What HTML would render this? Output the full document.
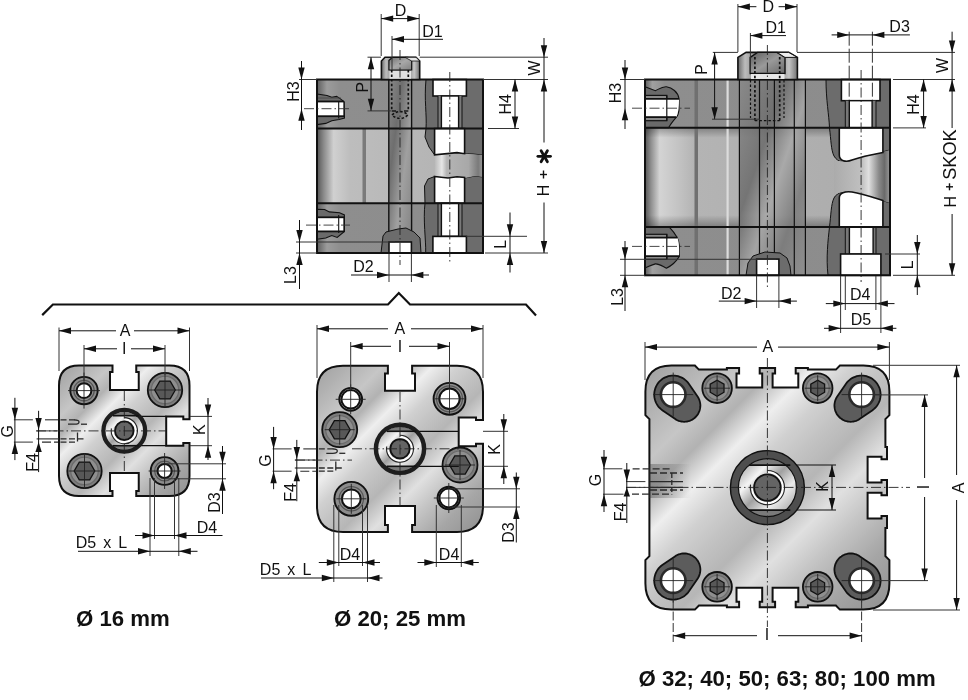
<!DOCTYPE html>
<html><head><meta charset="utf-8"><style>html,body{margin:0;padding:0;background:#fff;width:968px;height:700px;overflow:hidden}svg{display:block;will-change:transform;font-family:"Liberation Sans",sans-serif}</style></head><body>
<svg width="968" height="700" viewBox="0 0 968 700" font-family="Liberation Sans, sans-serif"><defs><linearGradient id="capL" x1="0" y1="0" x2="1" y2="0"><stop offset="0" stop-color="#5e5e5e"/><stop offset="0.06" stop-color="#9c9c9c"/><stop offset="0.14" stop-color="#8e8e8e"/><stop offset="1" stop-color="#8c8c8c"/></linearGradient><linearGradient id="tubeL" x1="0" y1="0" x2="1" y2="0"><stop offset="0" stop-color="#555"/><stop offset="0.04" stop-color="#8a8a8a"/><stop offset="0.1" stop-color="#d0d0d0"/><stop offset="0.2" stop-color="#bdbdbd"/><stop offset="1" stop-color="#b0b0b0"/></linearGradient><linearGradient id="rodG" x1="0" y1="0" x2="1" y2="0"><stop offset="0" stop-color="#6a6a6a"/><stop offset="0.12" stop-color="#c8c8c8"/><stop offset="0.3" stop-color="#9a9a9a"/><stop offset="0.6" stop-color="#8a8a8a"/><stop offset="0.85" stop-color="#c8c8c8"/><stop offset="1" stop-color="#777"/></linearGradient><linearGradient id="barG" x1="0" y1="0" x2="1" y2="0"><stop offset="0" stop-color="#b8b8b8"/><stop offset="0.15" stop-color="#e6e6e6"/><stop offset="0.25" stop-color="#b4b4b4"/><stop offset="0.7" stop-color="#a8a8a8"/><stop offset="0.9" stop-color="#7a7a7a"/><stop offset="1" stop-color="#9a9a9a"/></linearGradient><linearGradient id="front" x1="0" y1="0" x2="1" y2="1"><stop offset="0" stop-color="#8a8a8a"/><stop offset="0.3" stop-color="#bdbdbd"/><stop offset="0.42" stop-color="#e8e8e8"/><stop offset="0.5" stop-color="#b8b8b8"/><stop offset="0.62" stop-color="#e6e6e6"/><stop offset="0.8" stop-color="#bdbdbd"/><stop offset="1" stop-color="#7a7a7a"/></linearGradient><linearGradient id="chan" x1="0" y1="0" x2="1" y2="1"><stop offset="0" stop-color="#8a8a8a"/><stop offset="0.3" stop-color="#6e6e6e"/><stop offset="0.6" stop-color="#a0a0a0"/><stop offset="1" stop-color="#808080"/></linearGradient><linearGradient id="rodO" x1="0" y1="0" x2="1" y2="0"><stop offset="0" stop-color="#6a6a6a"/><stop offset="0.12" stop-color="#bcbcbc"/><stop offset="0.3" stop-color="#8e8e8e"/><stop offset="0.5" stop-color="#868686"/><stop offset="0.7" stop-color="#909090"/><stop offset="0.86" stop-color="#c4c4c4"/><stop offset="1" stop-color="#727272"/></linearGradient><linearGradient id="rodI" x1="0" y1="0" x2="1" y2="1"><stop offset="0" stop-color="#5e5e5e"/><stop offset="0.5" stop-color="#9a9a9a"/><stop offset="1" stop-color="#6a6a6a"/></linearGradient><linearGradient id="rodI1" x1="0" y1="0" x2="1" y2="1"><stop offset="0" stop-color="#707070"/><stop offset="0.5" stop-color="#a8a8a8"/><stop offset="1" stop-color="#808080"/></linearGradient><linearGradient id="capR" x1="0" y1="0" x2="1" y2="0"><stop offset="0" stop-color="#5e5e5e"/><stop offset="0.03" stop-color="#a0a0a0"/><stop offset="0.08" stop-color="#8e8e8e"/><stop offset="1" stop-color="#8c8c8c"/></linearGradient><linearGradient id="tubeR" x1="0" y1="0" x2="1" y2="0"><stop offset="0" stop-color="#555"/><stop offset="0.025" stop-color="#909090"/><stop offset="0.06" stop-color="#d4d4d4"/><stop offset="0.15" stop-color="#c0c0c0"/><stop offset="0.2" stop-color="#b4b4b4"/><stop offset="1" stop-color="#ababab"/></linearGradient><linearGradient id="tubeV" x1="0" y1="0" x2="0" y2="1"><stop offset="0" stop-color="#000" stop-opacity="0.28"/><stop offset="0.1" stop-color="#000" stop-opacity="0"/><stop offset="0.88" stop-color="#000" stop-opacity="0"/><stop offset="1" stop-color="#000" stop-opacity="0.3"/></linearGradient><linearGradient id="chan2" x1="0" y1="0" x2="1" y2="1"><stop offset="0" stop-color="#8a8a8a"/><stop offset="0.35" stop-color="#6a6a6a"/><stop offset="0.55" stop-color="#a8a8a8"/><stop offset="0.75" stop-color="#7a7a7a"/><stop offset="1" stop-color="#909090"/></linearGradient><linearGradient id="barR" x1="0" y1="0" x2="1" y2="0"><stop offset="0" stop-color="#ababab"/><stop offset="0.5" stop-color="#c0c0c0"/><stop offset="0.62" stop-color="#e0e0e0"/><stop offset="0.8" stop-color="#8a8a8a"/><stop offset="0.9" stop-color="#6a6a6a"/><stop offset="1" stop-color="#9a9a9a"/></linearGradient><linearGradient id="frontG" x1="0" y1="0" x2="1" y2="1"><stop offset="0" stop-color="#a0a0a0"/><stop offset="0.1" stop-color="#b2b2b2"/><stop offset="0.2" stop-color="#c6c6c6"/><stop offset="0.27" stop-color="#b2b2b2"/><stop offset="0.35" stop-color="#eeeeee"/><stop offset="0.43" stop-color="#d0d0d0"/><stop offset="0.5" stop-color="#c2c2c2"/><stop offset="0.57" stop-color="#b6b6b6"/><stop offset="0.66" stop-color="#e0e0e0"/><stop offset="0.75" stop-color="#c4c4c4"/><stop offset="0.86" stop-color="#a6a6a6"/><stop offset="1" stop-color="#909090"/></linearGradient><linearGradient id="ringIn" x1="0" y1="0" x2="1" y2="1"><stop offset="0" stop-color="#8a8a8a"/><stop offset="0.3" stop-color="#f4f4f4"/><stop offset="0.48" stop-color="#a0a0a0"/><stop offset="0.68" stop-color="#ececec"/><stop offset="1" stop-color="#909090"/></linearGradient><linearGradient id="portSh" x1="0" y1="0" x2="1" y2="0"><stop offset="0" stop-color="#777"/><stop offset="1" stop-color="#777"/></linearGradient><linearGradient id="psh" x1="0" y1="0" x2="1" y2="0"><stop offset="0" stop-color="#333" stop-opacity="0.35"/><stop offset="0.6" stop-color="#333" stop-opacity="0.15"/><stop offset="1" stop-color="#333" stop-opacity="0"/></linearGradient></defs><rect width="968" height="700" fill="#fff"/><rect x="317" y="79.5" width="166" height="49.0" fill="url(#capL)" stroke="none" stroke-width="1" />
<rect x="317" y="128.5" width="166" height="74.80000000000001" fill="url(#tubeL)" stroke="none" stroke-width="1" />
<rect x="317" y="203.3" width="166" height="49.69999999999999" fill="url(#capL)" stroke="none" stroke-width="1" />
<rect x="362.5" y="128.5" width="3.5" height="74.80000000000001" fill="#7a7a7a" stroke="none" stroke-width="1" />
<rect x="388.8" y="79.5" width="22.8" height="173.5" fill="url(#chan)" stroke="none" stroke-width="1" />
<line x1="388.8" y1="79.5" x2="388.8" y2="253" stroke="#111" stroke-width="1.4" />
<line x1="411.6" y1="79.5" x2="411.6" y2="253" stroke="#111" stroke-width="1.4" />
<path d="M317,94 L327,95.5 L331.8,97.3 L336.6,96.4 L340.8,99.1 L344,101.8 L344.5,118 L339,119.5 L331.8,120.7 L325.8,123.4 L317,124.6 Z" fill="#6a6a6a" stroke="#111" stroke-width="1.1" />
<line x1="317" y1="98" x2="341" y2="98" stroke="#444" stroke-width="0.8" />
<rect x="317" y="101.5" width="27" height="14.7" fill="#fff" stroke="none" stroke-width="1" />
<line x1="317" y1="101.5" x2="344" y2="101.5" stroke="#111" stroke-width="1.8" />
<line x1="317" y1="116.2" x2="344.5" y2="116.2" stroke="#111" stroke-width="1.8" />
<line x1="338.7" y1="101.5" x2="338.7" y2="118.5" stroke="#111" stroke-width="1.1" />
<line x1="344" y1="101.5" x2="344" y2="116.2" stroke="#111" stroke-width="1.3" />
<path d="M317,209.2 L324.6,209.5 L329.4,211.9 L339.6,212.8 L344.4,214.9 L344.4,231.4 L337.2,237.4 L331.8,235.6 L325.8,238 L317,239.2 Z" fill="#6a6a6a" stroke="#111" stroke-width="1.1" />
<rect x="317" y="217.3" width="27" height="14.1" fill="#fff" stroke="none" stroke-width="1" />
<line x1="317" y1="217.3" x2="344.4" y2="217.3" stroke="#111" stroke-width="1.8" />
<line x1="317" y1="231.4" x2="344.4" y2="231.4" stroke="#111" stroke-width="1.8" />
<line x1="338.7" y1="215" x2="338.7" y2="233" stroke="#111" stroke-width="1.1" />
<line x1="344" y1="217.3" x2="344" y2="231.4" stroke="#111" stroke-width="1.3" />
<path d="M426,79.5 L483,79.5 L483,155 L473,154 L465,153.7 L457,152.6 L434.6,154.9 L429,147 L425,137 L426,128.5 C427,115 424,100 426,79.5 Z" fill="#6c6c6c" stroke="#111" stroke-width="1" />
<path d="M425.7,253 C426,240 423,220 425,203.3 L424.5,186 L428,179 L434.6,176.5 L448,178 L457,176.8 L465,178 L475,176 L483,177 L483,253 Z" fill="#6c6c6c" stroke="#111" stroke-width="1" />
<path d="M434.6,154.9 L457,152.6 L465,153.7 L483,155 L483,177 L475,176 L465,178 L457,176.8 L448,178 L434.6,176.5 Z" fill="url(#barG)" stroke="none" stroke-width="1" />
<rect x="433" y="79.5" width="33.4" height="16.5" fill="#fff" stroke="#111" stroke-width="1.6" />
<rect x="438" y="96" width="24" height="32.5" fill="#7a7a7a" stroke="none" stroke-width="1" />
<rect x="441.4" y="96" width="17.2" height="32.5" fill="#fff" stroke="#111" stroke-width="1.4" />
<line x1="438" y1="96" x2="438" y2="128.5" stroke="#111" stroke-width="1" />
<line x1="462" y1="96" x2="462" y2="128.5" stroke="#111" stroke-width="1" />
<path d="M434.6,128.5 L464.6,128.5 L464.6,153.7 L457,152.6 L434.6,154.9 Z" fill="#fff" stroke="#111" stroke-width="1.6" />
<path d="M434.6,176.5 L448,178 L457,176.8 L464.6,177.5 L464.6,203.3 L434.6,203.3 Z" fill="#fff" stroke="#111" stroke-width="1.6" />
<rect x="438" y="203.3" width="24" height="33" fill="#7a7a7a" stroke="none" stroke-width="1" />
<rect x="441.4" y="203.3" width="17.2" height="33" fill="#fff" stroke="#111" stroke-width="1.4" />
<line x1="438" y1="203.3" x2="438" y2="236.4" stroke="#111" stroke-width="1" />
<line x1="462" y1="203.3" x2="462" y2="236.4" stroke="#111" stroke-width="1" />
<rect x="432.9" y="236.4" width="33.5" height="16.6" fill="#fff" stroke="#111" stroke-width="1.6" />
<path d="M381,253 L383,236 L386,232 L398,229 L406,228 L414,232 L420,238 L421,253 Z" fill="#6c6c6c" stroke="#111" stroke-width="1" />
<rect x="389" y="242" width="22.4" height="11" fill="#fff" stroke="#111" stroke-width="1.6" />
<rect x="317" y="79.5" width="166" height="173.5" fill="none" stroke="#111" stroke-width="2" />
<line x1="317" y1="128.5" x2="483" y2="128.5" stroke="#111" stroke-width="2" />
<line x1="317" y1="203.3" x2="483" y2="203.3" stroke="#111" stroke-width="2" />
<path d="M381.4,79.5 L381.4,61 L385,57.3 L416,57.3 L419.7,61 L419.7,79.5 Z" fill="url(#rodO)" stroke="#111" stroke-width="1.6" />
<path d="M388.9,60.5 L392.5,57.3 L408,57.3 L411.7,60.5 L411.7,70 L388.9,70 Z" fill="url(#rodI1)" stroke="#111" stroke-width="1.2" />
<path d="M405,57.3 L416,57.3 L419.7,61 L411.7,61 Z" fill="#e8e8e8" stroke="#111" stroke-width="0.8" />
<rect x="389.5" y="71" width="21.5" height="7.8" fill="#f0f0f0" stroke="none" stroke-width="1" opacity="0.85"/>
<line x1="391.7" y1="70" x2="391.7" y2="111" stroke="#111" stroke-width="1.7" stroke-dasharray="2.4,2.2" />
<line x1="408.3" y1="70" x2="408.3" y2="111" stroke="#111" stroke-width="1.7" stroke-dasharray="2.4,2.2" />
<line x1="391.7" y1="111" x2="396" y2="111" stroke="#111" stroke-width="1.4" />
<line x1="404" y1="111" x2="408.3" y2="111" stroke="#111" stroke-width="1.4" />
<path d="M392,115 Q400,108 408,115 Q400,122 392,115" fill="none" stroke="#111" stroke-width="1.6" stroke-dasharray="2.5,2"/>
<line x1="400" y1="50" x2="400" y2="265" stroke="#222" stroke-width="0.9" stroke-dasharray="10,3,1.5,3" />
<line x1="449.8" y1="72" x2="449.8" y2="262" stroke="#222" stroke-width="0.9" stroke-dasharray="10,3,1.5,3" />
<line x1="304" y1="108.7" x2="350" y2="108.7" stroke="#333" stroke-width="0.9" stroke-dasharray="10,3,1.5,3" />
<line x1="306" y1="225.1" x2="350" y2="225.1" stroke="#333" stroke-width="0.9" stroke-dasharray="10,3,1.5,3" />
<line x1="381.2" y1="14" x2="381.2" y2="56" stroke="#333" stroke-width="1" />
<line x1="419.2" y1="14" x2="419.2" y2="56" stroke="#333" stroke-width="1" />
<line x1="381.2" y1="18.6" x2="419.2" y2="18.6" stroke="#111" stroke-width="1" />
<polygon points="381.2,18.6 393.2,15.4 393.2,21.8" fill="#111"/>
<polygon points="419.2,18.6 407.2,15.4 407.2,21.8" fill="#111"/>
<text x="400.5" y="15.5" font-size="16" text-anchor="middle" fill="#111">D</text>
<line x1="392" y1="36" x2="392" y2="70" stroke="#333" stroke-width="1" />
<line x1="392" y1="39.3" x2="443" y2="39.3" stroke="#111" stroke-width="1" />
<polygon points="392.0,39.3 404.0,36.1 404.0,42.5" fill="#111"/>
<text x="432.5" y="37.2" font-size="16" text-anchor="middle" fill="#111">D1</text>
<line x1="367.5" y1="57.2" x2="381" y2="57.2" stroke="#333" stroke-width="1" />
<line x1="367.5" y1="110.9" x2="391" y2="110.9" stroke="#333" stroke-width="1" />
<line x1="371" y1="57.2" x2="371" y2="110.9" stroke="#111" stroke-width="1" />
<polygon points="371.0,57.3 367.8,69.3 374.2,69.3" fill="#111"/>
<polygon points="371.0,110.8 367.8,98.8 374.2,98.8" fill="#111"/>
<text transform="translate(367.9 87.2) rotate(-90)" x="0" y="0" font-size="16" text-anchor="middle" fill="#111">P</text>
<line x1="299" y1="79.5" x2="317" y2="79.5" stroke="#333" stroke-width="1" />
<line x1="301.5" y1="61" x2="301.5" y2="130" stroke="#111" stroke-width="1" />
<polygon points="301.5,79.5 298.3,67.5 304.7,67.5" fill="#111"/>
<polygon points="301.5,108.8 298.3,120.8 304.7,120.8" fill="#111"/>
<text transform="translate(298.75 91.6) rotate(-90)" x="0" y="0" font-size="16" text-anchor="middle" fill="#111">H3</text>
<line x1="419.7" y1="57.2" x2="548" y2="57.2" stroke="#333" stroke-width="1" />
<line x1="483" y1="79.5" x2="548" y2="79.5" stroke="#333" stroke-width="1" />
<line x1="485" y1="253" x2="548" y2="253" stroke="#333" stroke-width="1" />
<line x1="544" y1="38" x2="544" y2="79.5" stroke="#111" stroke-width="1" />
<polygon points="544.0,57.2 540.8,45.2 547.2,45.2" fill="#111"/>
<line x1="544" y1="79.5" x2="544" y2="142.5" stroke="#111" stroke-width="1" />
<line x1="544" y1="202.5" x2="544" y2="253" stroke="#111" stroke-width="1" />
<polygon points="544.0,79.5 540.8,91.5 547.2,91.5" fill="#111"/>
<polygon points="544.0,253.0 540.8,241.0 547.2,241.0" fill="#111"/>
<text transform="translate(540 68) rotate(-90)" x="0" y="0" font-size="16" text-anchor="middle" fill="#111">W</text>
<text transform="translate(549 190.5) rotate(-90)" x="0" y="0" font-size="16" text-anchor="middle" fill="#111">H</text>
<line x1="540" y1="174.5" x2="547" y2="174.5" stroke="#111" stroke-width="1.4" />
<line x1="543.5" y1="170.5" x2="543.5" y2="178.5" stroke="#111" stroke-width="1.4" />
<line x1="537.9" y1="156.3" x2="550.5" y2="156.3" stroke="#111" stroke-width="2.8" stroke-linecap="round"/>
<line x1="541.1" y1="150.8" x2="547.4" y2="161.8" stroke="#111" stroke-width="2.8" stroke-linecap="round"/>
<line x1="547.4" y1="150.8" x2="541.1" y2="161.8" stroke="#111" stroke-width="2.8" stroke-linecap="round"/>
<line x1="488" y1="128.5" x2="519" y2="128.5" stroke="#333" stroke-width="1" />
<line x1="515" y1="79.5" x2="515" y2="128.5" stroke="#111" stroke-width="1" />
<polygon points="515.0,79.5 511.8,91.5 518.2,91.5" fill="#111"/>
<polygon points="515.0,128.5 511.8,116.5 518.2,116.5" fill="#111"/>
<text transform="translate(511 104.4) rotate(-90)" x="0" y="0" font-size="16" text-anchor="middle" fill="#111">H4</text>
<line x1="466" y1="236.3" x2="527" y2="236.3" stroke="#333" stroke-width="1" />
<line x1="510" y1="212.5" x2="510" y2="272.5" stroke="#111" stroke-width="1" />
<polygon points="510.0,236.3 506.8,224.3 513.2,224.3" fill="#111"/>
<polygon points="510.0,253.0 506.8,265.0 513.2,265.0" fill="#111"/>
<text transform="translate(506 244.25) rotate(-90)" x="0" y="0" font-size="16" text-anchor="middle" fill="#111">L</text>
<line x1="296" y1="242" x2="395" y2="242" stroke="#333" stroke-width="1" />
<line x1="296" y1="253" x2="317" y2="253" stroke="#333" stroke-width="1" />
<line x1="299.5" y1="220" x2="299.5" y2="289" stroke="#111" stroke-width="1" />
<polygon points="299.5,242.0 296.3,230.0 302.7,230.0" fill="#111"/>
<polygon points="299.5,253.0 296.3,265.0 302.7,265.0" fill="#111"/>
<text transform="translate(296.25 275) rotate(-90)" x="0" y="0" font-size="16" text-anchor="middle" fill="#111">L3</text>
<line x1="389" y1="254" x2="389" y2="282" stroke="#333" stroke-width="1" />
<line x1="411.4" y1="254" x2="411.4" y2="282" stroke="#333" stroke-width="1" />
<line x1="351" y1="275" x2="429" y2="275" stroke="#111" stroke-width="1" />
<polygon points="389.0,275.0 377.0,271.8 377.0,278.2" fill="#111"/>
<polygon points="411.4,275.0 423.4,271.8 423.4,278.2" fill="#111"/>
<text x="363.4" y="272" font-size="16" text-anchor="middle" fill="#111">D2</text>
<rect x="645" y="79.5" width="245" height="48.3" fill="url(#capR)" stroke="none" stroke-width="1" />
<rect x="645" y="127.8" width="245" height="99.3" fill="url(#tubeR)" stroke="none" stroke-width="1" />
<rect x="645" y="227.1" width="245" height="48.20000000000002" fill="url(#capR)" stroke="none" stroke-width="1" />
<rect x="645" y="127.8" width="245" height="99.3" fill="url(#tubeV)" stroke="none" stroke-width="1" />
<rect x="694.5" y="79.5" width="3.5" height="195.8" fill="#707070" stroke="none" stroke-width="1" />
<rect x="726.5" y="79.5" width="2.2" height="195.8" fill="#dcdcdc" stroke="none" stroke-width="1" />
<rect x="739.4" y="79.5" width="66" height="195.8" fill="url(#chan2)" stroke="none" stroke-width="1" opacity="0.85"/>
<line x1="739.4" y1="79.5" x2="739.4" y2="275.3" stroke="#111" stroke-width="1.2" />
<line x1="759.5" y1="79.5" x2="759.5" y2="275.3" stroke="#111" stroke-width="1.2" />
<line x1="774.4" y1="79.5" x2="774.4" y2="275.3" stroke="#111" stroke-width="1.2" />
<line x1="794.3" y1="79.5" x2="794.3" y2="275.3" stroke="#111" stroke-width="1.2" />
<line x1="805.4" y1="79.5" x2="805.4" y2="275.3" stroke="#111" stroke-width="1.2" />
<path d="M645,86.8 L655.4,90.7 C659,89 662,86.5 666.4,86.8 C672,87.5 678,92 679,98.6 L679,110 C678.5,114 677.5,116 676.4,117.1 C673,121 670,125 668.6,127.8 L645,127.8 Z" fill="#6a6a6a" stroke="#111" stroke-width="1.1" />
<rect x="645" y="95.4" width="21.8" height="25.3" fill="#8a8a8a" stroke="#111" stroke-width="1.2" />
<path d="M645,98.9 L679,98.9 C679,108 678,113 676.4,117.1 L645,117.1 Z" fill="#fff" stroke="none" stroke-width="1" />
<line x1="645" y1="98.9" x2="679" y2="98.9" stroke="#111" stroke-width="1.8" />
<line x1="645" y1="117.1" x2="676.4" y2="117.1" stroke="#111" stroke-width="1.8" />
<line x1="666.8" y1="95.4" x2="666.8" y2="120.7" stroke="#111" stroke-width="1.2" />
<path d="M669.3,227.1 C675,233 679.3,240 679.3,245.7 L679.3,256.4 C676,262 671,266 666.4,268.2 C662,266 659,263.5 655.4,263.9 C651,265 648,267 645,267.9 L645,227.1 Z" fill="#6a6a6a" stroke="#111" stroke-width="1.1" />
<rect x="645" y="234.3" width="21.8" height="25" fill="#8a8a8a" stroke="#111" stroke-width="1.2" />
<path d="M645,237.7 L677.5,237.7 C679.3,243 679.3,250 679,256.1 L645,256.1 Z" fill="#fff" stroke="none" stroke-width="1" />
<line x1="645" y1="237.7" x2="677.5" y2="237.7" stroke="#111" stroke-width="1.8" />
<line x1="645" y1="256.1" x2="679.3" y2="256.1" stroke="#111" stroke-width="1.8" />
<line x1="666.8" y1="234.3" x2="666.8" y2="259.3" stroke="#111" stroke-width="1.2" />
<path d="M826,79.5 L890,79.5 L890,150 C878,153 862,156 852,160 C845,163 838,163 834,156 C831,150 831,140 829.5,127.8 C829,115 826,100 826,79.5 Z" fill="#6c6c6c" stroke="#111" stroke-width="1" />
<path d="M890,203 C878,199 862,194 852,192 C845,191 837,192 834,198 C831,204 831,215 829.5,227.1 C828,240 826,258 828,275.3 L890,275.3 Z" fill="#6c6c6c" stroke="#111" stroke-width="1" />
<path d="M834,160 C845,163 852,160 852,160 C862,156 878,153 890,150 L890,203 C878,199 862,194 852,192 C845,191 837,192 834,196 Z" fill="url(#barR)" stroke="none" stroke-width="1" />
<rect x="841.4" y="79.5" width="38.6" height="21.2" fill="#fff" stroke="#111" stroke-width="1.6" />
<rect x="845" y="100.7" width="31" height="27.1" fill="#777" stroke="none" stroke-width="1" />
<rect x="849.3" y="100.7" width="22.8" height="27.1" fill="#fff" stroke="#111" stroke-width="1.4" />
<line x1="845.3" y1="100.7" x2="845.3" y2="127.8" stroke="#111" stroke-width="1" />
<line x1="876" y1="100.7" x2="876" y2="127.8" stroke="#111" stroke-width="1" />
<path d="M839.3,127.8 L882.9,127.8 L882.9,152.5 C875,154 862,156.5 852,160 C846,162.5 839.3,161 839.3,155 Z" fill="#fff" stroke="#111" stroke-width="1.6" />
<path d="M839.3,198 C839.3,193 845,191 852,192 C862,193.5 875,198 882.9,200.5 L882.9,227.1 L839.3,227.1 Z" fill="#fff" stroke="#111" stroke-width="1.6" />
<rect x="845" y="227.1" width="31" height="27" fill="#777" stroke="none" stroke-width="1" />
<rect x="849.4" y="227.1" width="23.7" height="27" fill="#fff" stroke="#111" stroke-width="1.4" />
<line x1="845.3" y1="227.1" x2="845.3" y2="254" stroke="#111" stroke-width="1" />
<line x1="876" y1="227.1" x2="876" y2="254" stroke="#111" stroke-width="1" />
<rect x="840.6" y="254" width="40.3" height="21.3" fill="#fff" stroke="#111" stroke-width="1.6" />
<path d="M746,275.3 L748,263 L753,256 L765,252 L780,253 L787,258 L790,266 L791,275.3 Z" fill="#6c6c6c" stroke="#111" stroke-width="1" />
<rect x="756.6" y="259.1" width="22.3" height="16.2" fill="#fff" stroke="#111" stroke-width="1.6" />
<rect x="645" y="79.5" width="245" height="195.8" fill="none" stroke="#111" stroke-width="2" />
<line x1="645" y1="127.8" x2="890" y2="127.8" stroke="#111" stroke-width="2" />
<line x1="645" y1="227.1" x2="890" y2="227.1" stroke="#111" stroke-width="2" />
<path d="M737.9,79.5 L737.9,57.4 L746.1,52.4 L788.7,52.4 L797.4,57.4 L797.4,79.5 Z" fill="url(#rodO)" stroke="#111" stroke-width="1.6" />
<path d="M750.2,57.4 L757.5,52.4 L777,52.4 L785,57.4 L785,73.5 L750.2,73.5 Z" fill="url(#rodI)" stroke="#111" stroke-width="1.4" />
<path d="M777,52.4 L788.7,52.4 L797.4,57.4 L785,57.4 Z" fill="#eeeeee" stroke="#111" stroke-width="1" />
<rect x="751" y="74" width="33.5" height="5" fill="#f2f2f2" stroke="none" stroke-width="1" opacity="0.9"/>
<line x1="754.9" y1="57" x2="754.9" y2="120.6" stroke="#111" stroke-width="1.7" stroke-dasharray="2.5,2.2" />
<line x1="779.7" y1="57" x2="779.7" y2="120.6" stroke="#111" stroke-width="1.7" stroke-dasharray="2.5,2.2" />
<line x1="750.5" y1="80" x2="750.5" y2="118" stroke="#111" stroke-width="1.2" stroke-dasharray="2.5,2" />
<line x1="784" y1="80" x2="784" y2="118" stroke="#111" stroke-width="1.2" stroke-dasharray="2.5,2" />
<line x1="754.9" y1="120.6" x2="779.7" y2="120.6" stroke="#111" stroke-width="1.4" stroke-dasharray="2.5,2" />
<line x1="767.4" y1="45" x2="767.4" y2="290" stroke="#222" stroke-width="0.9" stroke-dasharray="10,3,1.5,3" />
<line x1="861.1" y1="70" x2="861.1" y2="282" stroke="#222" stroke-width="0.9" stroke-dasharray="10,3,1.5,3" />
<line x1="632" y1="108.2" x2="690" y2="108.2" stroke="#333" stroke-width="0.9" stroke-dasharray="10,3,1.5,3" />
<line x1="632" y1="246.4" x2="690" y2="246.4" stroke="#333" stroke-width="0.9" stroke-dasharray="10,3,1.5,3" />
<line x1="737.9" y1="4" x2="737.9" y2="52" stroke="#333" stroke-width="1" />
<line x1="797" y1="4" x2="797" y2="52" stroke="#333" stroke-width="1" />
<line x1="738" y1="6.7" x2="756.4" y2="6.7" stroke="#111" stroke-width="1" />
<line x1="778.6" y1="6.7" x2="797" y2="6.7" stroke="#111" stroke-width="1" />
<polygon points="737.9,6.7 749.9,3.5 749.9,9.9" fill="#111"/>
<polygon points="797.0,6.7 785.0,3.5 785.0,9.9" fill="#111"/>
<text x="768.2" y="12.1" font-size="16" text-anchor="middle" fill="#111">D</text>
<line x1="750.4" y1="33" x2="750.4" y2="73" stroke="#333" stroke-width="1" />
<line x1="750.4" y1="35.6" x2="786" y2="35.6" stroke="#111" stroke-width="1" />
<polygon points="750.4,35.6 762.4,32.4 762.4,38.8" fill="#111"/>
<text x="775.7" y="32.9" font-size="16" text-anchor="middle" fill="#111">D1</text>
<line x1="849.2" y1="31.7" x2="849.2" y2="100" stroke="#333" stroke-width="1" stroke-dasharray="14,3" />
<line x1="872.4" y1="31.7" x2="872.4" y2="100" stroke="#333" stroke-width="1" stroke-dasharray="14,3" />
<line x1="831.6" y1="34.9" x2="909.9" y2="34.9" stroke="#111" stroke-width="1" />
<polygon points="849.2,34.9 837.2,31.7 837.2,38.1" fill="#111"/>
<polygon points="872.4,34.9 884.4,31.7 884.4,38.1" fill="#111"/>
<text x="899.6" y="31.9" font-size="16" text-anchor="middle" fill="#111">D3</text>
<line x1="712.8" y1="52.4" x2="737.9" y2="52.4" stroke="#333" stroke-width="1" />
<line x1="797" y1="52.4" x2="955" y2="52.4" stroke="#333" stroke-width="1" />
<line x1="893" y1="79.5" x2="955" y2="79.5" stroke="#333" stroke-width="1" />
<line x1="893" y1="127.9" x2="926" y2="127.9" stroke="#333" stroke-width="1" />
<line x1="893" y1="275.3" x2="955" y2="275.3" stroke="#333" stroke-width="1" />
<line x1="952.1" y1="31.7" x2="952.1" y2="79.5" stroke="#111" stroke-width="1" />
<polygon points="952.1,52.4 948.9,40.4 955.3,40.4" fill="#111"/>
<line x1="952.1" y1="79.5" x2="952.1" y2="128" stroke="#111" stroke-width="1" />
<polygon points="952.1,79.5 948.9,91.5 955.3,91.5" fill="#111"/>
<line x1="952.1" y1="214" x2="952.1" y2="275.3" stroke="#111" stroke-width="1" />
<polygon points="952.1,275.3 948.9,263.3 955.3,263.3" fill="#111"/>
<text transform="translate(947.9 65.5) rotate(-90)" x="0" y="0" font-size="16" text-anchor="middle" fill="#111">W</text>
<text transform="translate(955.6 154.6) rotate(-90)" x="0" y="0" font-size="18.2" text-anchor="middle" fill="#111">SKOK</text>
<text transform="translate(955.6 201.7) rotate(-90)" x="0" y="0" font-size="16" text-anchor="middle" fill="#111">H</text>
<line x1="946" y1="186.8" x2="953" y2="186.8" stroke="#111" stroke-width="1.4" />
<line x1="949.5" y1="183.3" x2="949.5" y2="190.3" stroke="#111" stroke-width="1.4" />
<line x1="923.6" y1="79.5" x2="923.6" y2="127.9" stroke="#111" stroke-width="1" />
<polygon points="923.6,79.5 920.4,91.5 926.8,91.5" fill="#111"/>
<polygon points="923.6,127.9 920.4,115.9 926.8,115.9" fill="#111"/>
<text transform="translate(919.4 104.6) rotate(-90)" x="0" y="0" font-size="16" text-anchor="middle" fill="#111">H4</text>
<line x1="714.6" y1="52.3" x2="714.6" y2="119.2" stroke="#111" stroke-width="1" />
<polygon points="714.6,52.4 711.4,64.4 717.8,64.4" fill="#111"/>
<polygon points="714.6,119.2 711.4,107.2 717.8,107.2" fill="#111"/>
<line x1="712" y1="119.2" x2="760" y2="119.2" stroke="#333" stroke-width="1" />
<text transform="translate(706.9 69.5) rotate(-90)" x="0" y="0" font-size="16" text-anchor="middle" fill="#111">P</text>
<line x1="620" y1="79.5" x2="645" y2="79.5" stroke="#333" stroke-width="1" />
<line x1="625" y1="60" x2="625" y2="129" stroke="#111" stroke-width="1" />
<polygon points="625.0,79.5 621.8,67.5 628.2,67.5" fill="#111"/>
<polygon points="625.0,108.2 621.8,120.2 628.2,120.2" fill="#111"/>
<text transform="translate(621.25 93.1) rotate(-90)" x="0" y="0" font-size="16" text-anchor="middle" fill="#111">H3</text>
<line x1="620" y1="259.3" x2="776" y2="259.3" stroke="#333" stroke-width="1" />
<line x1="620" y1="275.3" x2="645" y2="275.3" stroke="#333" stroke-width="1" />
<line x1="625" y1="241" x2="625" y2="311" stroke="#111" stroke-width="1" />
<polygon points="625.0,259.3 621.8,247.3 628.2,247.3" fill="#111"/>
<polygon points="625.0,275.3 621.8,287.3 628.2,287.3" fill="#111"/>
<text transform="translate(622.5 296.9) rotate(-90)" x="0" y="0" font-size="16" text-anchor="middle" fill="#111">L3</text>
<line x1="756.6" y1="276" x2="756.6" y2="308" stroke="#333" stroke-width="1" />
<line x1="778.9" y1="276" x2="778.9" y2="308" stroke="#333" stroke-width="1" />
<line x1="718.8" y1="301.1" x2="796.9" y2="301.1" stroke="#111" stroke-width="1" />
<polygon points="756.6,301.1 744.6,297.9 744.6,304.3" fill="#111"/>
<polygon points="778.9,301.1 790.9,297.9 790.9,304.3" fill="#111"/>
<text x="731.25" y="298.75" font-size="16" text-anchor="middle" fill="#111">D2</text>
<line x1="885" y1="254" x2="920" y2="254" stroke="#333" stroke-width="1" />
<line x1="917.3" y1="235" x2="917.3" y2="295" stroke="#111" stroke-width="1" />
<polygon points="917.3,254.0 914.1,242.0 920.5,242.0" fill="#111"/>
<polygon points="917.3,275.3 914.1,287.3 920.5,287.3" fill="#111"/>
<text transform="translate(913 264.85) rotate(-90)" x="0" y="0" font-size="16" text-anchor="middle" fill="#111">L</text>
<line x1="845.3" y1="276" x2="845.3" y2="310" stroke="#333" stroke-width="1" />
<line x1="875.9" y1="276" x2="875.9" y2="310" stroke="#333" stroke-width="1" />
<line x1="825.8" y1="303.6" x2="894.5" y2="303.6" stroke="#111" stroke-width="1" />
<polygon points="845.3,303.6 833.3,300.4 833.3,306.8" fill="#111"/>
<polygon points="875.9,303.6 887.9,300.4 887.9,306.8" fill="#111"/>
<text x="860.2" y="300.2" font-size="16" text-anchor="middle" fill="#111">D4</text>
<line x1="840.6" y1="276" x2="840.6" y2="333" stroke="#333" stroke-width="1" />
<line x1="880.9" y1="276" x2="880.9" y2="333" stroke="#333" stroke-width="1" />
<line x1="824" y1="328.3" x2="896.4" y2="328.3" stroke="#111" stroke-width="1" />
<polygon points="840.6,328.3 828.6,325.1 828.6,331.5" fill="#111"/>
<polygon points="880.9,328.3 892.9,325.1 892.9,331.5" fill="#111"/>
<text x="860.9" y="325" font-size="16" text-anchor="middle" fill="#111">D5</text>
<path d="M42.2,315.1 L52.9,304.5 L388,304.5 L398.8,293 L410,304.5 L526,304.5 L536,315.5" fill="none" stroke="#111" stroke-width="2.2" />
<path d="M79,365.5 L112.5,365.5 L112.5,372.0 L110,372.0 L110,390.0 L138.75,390.0 L138.75,372.0 L136.25,372.0 L136.25,365.5 L169.5,365.5 Q189.5,365.5 189.5,385.5 L189.5,419.3 L183.3,419.3 L183.3,416.4 L166.2,416.4 L166.2,445.7 L183.3,445.7 L183.3,442.9 L189.5,442.9 L189.5,476 Q189.5,496 169.5,496 L136.25,496 L136.25,491 L138.75,491 L138.75,473 L110,473 L110,491 L112.5,491 L112.5,496 L79,496 Q59,496 59,476 L59,385.5 Q59,365.5 79,365.5 Z" fill="url(#frontG)" stroke="#111" stroke-width="2" />
<circle cx="84" cy="390.6" r="13.7" fill="#8c8c8c" stroke="#111" stroke-width="1.9" />
<circle cx="84" cy="390.6" r="10.2" fill="none" stroke="#555" stroke-width="1.2" />
<circle cx="84" cy="390.6" r="7.4" fill="#fff" stroke="#111" stroke-width="2" />
<circle cx="165" cy="390" r="17.2" fill="#7c7c7c" stroke="#111" stroke-width="1.8" />
<circle cx="165" cy="390" r="13.76" fill="#8e8e8e" stroke="#6a6a6a" stroke-width="1.2" />
<polygon points="175.3,390.0 170.2,398.9 159.8,398.9 154.7,390.0 159.8,381.1 170.2,381.1" fill="#585858" stroke="#111" stroke-width="1.3"/>
<circle cx="84.5" cy="471" r="17.2" fill="#7c7c7c" stroke="#111" stroke-width="1.8" />
<circle cx="84.5" cy="471" r="13.76" fill="#8e8e8e" stroke="#6a6a6a" stroke-width="1.2" />
<polygon points="94.8,471.0 89.7,479.9 79.3,479.9 74.2,471.0 79.3,462.1 89.7,462.1" fill="#585858" stroke="#111" stroke-width="1.3"/>
<circle cx="164.6" cy="471" r="13.9" fill="#8c8c8c" stroke="#111" stroke-width="1.9" />
<circle cx="164.6" cy="471" r="9.899999999999999" fill="none" stroke="#555" stroke-width="1.2" />
<circle cx="164.6" cy="471" r="7.1" fill="#fff" stroke="#111" stroke-width="2" />
<line x1="124.3" y1="416.4" x2="166.4" y2="416.4" stroke="#111" stroke-width="1.2" />
<line x1="124.3" y1="445.7" x2="166.4" y2="445.7" stroke="#111" stroke-width="1.2" />
<circle cx="124.3" cy="430.7" r="18.8" fill="url(#ringIn)" stroke="none" stroke-width="1" />
<path d="M113.0,415.7 A18.8,18.8 0 0 1 135.6,415.7 Z" fill="#7a7a7a" stroke="none" stroke-width="1" />
<path d="M113.0,445.7 A18.8,18.8 0 0 0 135.6,445.7 Z" fill="#7a7a7a" stroke="none" stroke-width="1" />
<circle cx="124.3" cy="430.7" r="20.9" fill="none" stroke="#1e1e1e" stroke-width="4.2" />
<line x1="112.96686274679425" y1="415.7" x2="138.56" y2="415.7" stroke="#111" stroke-width="1.6" />
<line x1="112.96686274679425" y1="445.7" x2="138.56" y2="445.7" stroke="#111" stroke-width="1.6" />
<path d="M124.3,419.2 A11.5,11.5 0 1 1 112.8,431.7" fill="none" stroke="#fff" stroke-width="2" />
<path d="M124.3,417.6 A13.100000000000001,13.100000000000001 0 1 1 111.4,428.4" fill="none" stroke="#222" stroke-width="1.1" />
<circle cx="124.3" cy="430.7" r="9.3" fill="#646464" stroke="#111" stroke-width="1.8" />
<line x1="68" y1="390.6" x2="100" y2="390.6" stroke="#222" stroke-width="0.9" />
<line x1="84" y1="372.6" x2="84" y2="408.6" stroke="#222" stroke-width="0.9" />
<line x1="149" y1="390" x2="181" y2="390" stroke="#222" stroke-width="0.9" />
<line x1="165" y1="372" x2="165" y2="408" stroke="#222" stroke-width="0.9" />
<line x1="68.5" y1="471" x2="100.5" y2="471" stroke="#222" stroke-width="0.9" />
<line x1="84.5" y1="453" x2="84.5" y2="489" stroke="#222" stroke-width="0.9" />
<line x1="148.6" y1="471" x2="180.6" y2="471" stroke="#222" stroke-width="0.9" />
<line x1="164.6" y1="453" x2="164.6" y2="489" stroke="#222" stroke-width="0.9" />
<line x1="124.3" y1="391" x2="124.3" y2="472" stroke="#222" stroke-width="0.9" stroke-dasharray="10,3,1.5,3" />
<line x1="36" y1="430.9" x2="166" y2="430.9" stroke="#222" stroke-width="0.9" stroke-dasharray="10,3,1.5,3" />
<line x1="59" y1="327.5" x2="59" y2="371" stroke="#333" stroke-width="1" />
<line x1="189.5" y1="327.5" x2="189.5" y2="371" stroke="#333" stroke-width="1" />
<line x1="59" y1="330.8" x2="116" y2="330.8" stroke="#111" stroke-width="1" />
<line x1="134" y1="330.8" x2="189.5" y2="330.8" stroke="#111" stroke-width="1" />
<polygon points="59.0,330.8 71.0,327.6 71.0,334.0" fill="#111"/>
<polygon points="189.5,330.8 177.5,327.6 177.5,334.0" fill="#111"/>
<text x="125" y="335.5" font-size="16" text-anchor="middle" fill="#111">A</text>
<line x1="84" y1="345" x2="84" y2="380" stroke="#333" stroke-width="1" />
<line x1="165" y1="345" x2="165" y2="375" stroke="#333" stroke-width="1" />
<line x1="84" y1="348.8" x2="117" y2="348.8" stroke="#111" stroke-width="1" />
<line x1="131" y1="348.8" x2="165" y2="348.8" stroke="#111" stroke-width="1" />
<polygon points="84.0,348.8 96.0,345.6 96.0,352.0" fill="#111"/>
<polygon points="165.0,348.8 153.0,345.6 153.0,352.0" fill="#111"/>
<text x="124.3" y="353.9" font-size="16" text-anchor="middle" fill="#111">I</text>
<line x1="190" y1="416.4" x2="212" y2="416.4" stroke="#333" stroke-width="1" />
<line x1="190" y1="445.7" x2="212" y2="445.7" stroke="#333" stroke-width="1" />
<line x1="208" y1="398" x2="208" y2="460" stroke="#111" stroke-width="1" />
<polygon points="208.0,416.4 204.8,404.4 211.2,404.4" fill="#111"/>
<polygon points="208.0,445.7 204.8,457.7 211.2,457.7" fill="#111"/>
<text transform="translate(204.5 429.6) rotate(-90)" x="0" y="0" font-size="16" text-anchor="middle" fill="#111">K</text>
<line x1="165" y1="463.8" x2="226" y2="463.8" stroke="#333" stroke-width="1" />
<line x1="165" y1="478.8" x2="226" y2="478.8" stroke="#333" stroke-width="1" />
<line x1="222.5" y1="446" x2="222.5" y2="514" stroke="#111" stroke-width="1" />
<polygon points="222.5,463.8 219.3,451.8 225.7,451.8" fill="#111"/>
<polygon points="222.5,478.8 219.3,490.8 225.7,490.8" fill="#111"/>
<text transform="translate(220 502.5) rotate(-90)" x="0" y="0" font-size="16" text-anchor="middle" fill="#111">D3</text>
<line x1="150" y1="478" x2="150" y2="556" stroke="#333" stroke-width="1" />
<line x1="178.8" y1="478" x2="178.8" y2="556" stroke="#333" stroke-width="1" />
<line x1="154.5" y1="478" x2="154.5" y2="539" stroke="#333" stroke-width="1" />
<line x1="174.5" y1="478" x2="174.5" y2="539" stroke="#333" stroke-width="1" />
<line x1="135" y1="535.5" x2="222.5" y2="535.5" stroke="#111" stroke-width="1" />
<polygon points="154.5,535.5 142.5,532.3 142.5,538.7" fill="#111"/>
<polygon points="174.5,535.5 186.5,532.3 186.5,538.7" fill="#111"/>
<text x="206.9" y="532.5" font-size="16" text-anchor="middle" fill="#111">D4</text>
<line x1="78" y1="551.3" x2="197.5" y2="551.3" stroke="#111" stroke-width="1" />
<polygon points="150.0,551.3 138.0,548.1 138.0,554.5" fill="#111"/>
<polygon points="178.8,551.3 190.8,548.1 190.8,554.5" fill="#111"/>
<text x="101.5" y="548.3" font-size="16" text-anchor="middle" fill="#111" word-spacing="2.6">D5 x L</text>
<line x1="13.9" y1="419.8" x2="32.9" y2="419.8" stroke="#333" stroke-width="1" />
<line x1="45" y1="419.8" x2="58" y2="419.8" stroke="#2a2a2a" stroke-width="1.1" />
<line x1="60.5" y1="419.8" x2="76" y2="419.8" stroke="#2a2a2a" stroke-width="1.3" stroke-dasharray="6,2.5" />
<path d="M74.5,419.8 Q79,419.8 79,422.0 Q79,424.2 74.5,424.2 L68,424.2" fill="none" stroke="#2a2a2a" stroke-width="1.3" />
<line x1="81" y1="424.2" x2="87" y2="424.2" stroke="#2a2a2a" stroke-width="1.3" />
<line x1="36.6" y1="430.90000000000003" x2="57" y2="430.90000000000003" stroke="#333" stroke-width="1" />
<line x1="36.6" y1="438.90000000000003" x2="59" y2="438.90000000000003" stroke="#2a2a2a" stroke-width="1.1" />
<line x1="60.5" y1="438.90000000000003" x2="85" y2="438.90000000000003" stroke="#2a2a2a" stroke-width="1.3" stroke-dasharray="6,2.5" />
<line x1="77.5" y1="432.50000000000006" x2="77.5" y2="441.50000000000006" stroke="#2a2a2a" stroke-width="1.3" />
<line x1="13.9" y1="442.1" x2="32.9" y2="442.1" stroke="#333" stroke-width="1" />
<line x1="42" y1="442.1" x2="58" y2="442.1" stroke="#2a2a2a" stroke-width="1.1" stroke-dasharray="9,3" />
<line x1="60.5" y1="442.1" x2="77.5" y2="442.1" stroke="#2a2a2a" stroke-width="1.3" stroke-dasharray="6,2.5" />
<line x1="14.9" y1="397.8" x2="14.9" y2="460.1" stroke="#111" stroke-width="1" />
<polygon points="14.9,419.8 11.7,407.8 18.1,407.8" fill="#111"/>
<polygon points="14.9,442.1 11.7,454.1 18.1,454.1" fill="#111"/>
<line x1="38.6" y1="410.8" x2="38.6" y2="472.1" stroke="#111" stroke-width="1" />
<polygon points="38.6,429.9 35.4,417.9 41.8,417.9" fill="#111"/>
<polygon points="38.6,442.1 35.4,452.1 41.8,452.1" fill="#111"/>
<text transform="translate(12.5 431.25) rotate(-90)" x="0" y="0" font-size="16" text-anchor="middle" fill="#111">G</text>
<text transform="translate(37.5 462.5) rotate(-90)" x="0" y="0" font-size="16" text-anchor="middle" fill="#111">F4</text>
<path d="M343,365.7 L387.9,365.7 L387.9,373.59999999999997 L385,373.59999999999997 L385,390.7 L415,390.7 L415,373.59999999999997 L412.1,373.59999999999997 L412.1,365.7 L457,365.7 Q483,365.7 483,391.7 L483,420 L476,420 L476,417.5 L458.7,417.5 L458.7,446.3 L476,446.3 L476,443.8 L483,443.8 L483,506 Q483,532 457,532 L412.1,532 L412.1,525 L415,525 L415,506 L385,506 L385,525 L387.9,525 L387.9,532 L343,532 Q317,532 317,506 L317,391.7 Q317,365.7 343,365.7 Z" fill="url(#frontG)" stroke="#111" stroke-width="2" />
<circle cx="350.7" cy="399.3" r="11.4" fill="#cfcfcf" stroke="#111" stroke-width="1.9" />
<circle cx="350.7" cy="399.3" r="9.3" fill="#fff" stroke="#111" stroke-width="2" />
<circle cx="449.5" cy="398.8" r="15.9" fill="#8c8c8c" stroke="#111" stroke-width="1.9" />
<circle cx="449.5" cy="398.8" r="13.0" fill="none" stroke="#555" stroke-width="1.2" />
<circle cx="449.5" cy="398.8" r="10.2" fill="#fff" stroke="#111" stroke-width="2" />
<circle cx="351.3" cy="498.8" r="16.9" fill="#8c8c8c" stroke="#111" stroke-width="1.9" />
<circle cx="351.3" cy="498.8" r="12.2" fill="none" stroke="#555" stroke-width="1.2" />
<circle cx="351.3" cy="498.8" r="9.4" fill="#fff" stroke="#111" stroke-width="2" />
<circle cx="448.8" cy="498" r="11.3" fill="#cfcfcf" stroke="#111" stroke-width="1.9" />
<circle cx="448.8" cy="498" r="9.4" fill="#fff" stroke="#111" stroke-width="2" />
<circle cx="339.7" cy="429.7" r="17.5" fill="#7c7c7c" stroke="#111" stroke-width="1.8" />
<circle cx="339.7" cy="429.7" r="14.0" fill="#8e8e8e" stroke="#6a6a6a" stroke-width="1.2" />
<polygon points="350.2,429.7 344.9,438.8 334.4,438.8 329.2,429.7 334.4,420.6 344.9,420.6" fill="#585858" stroke="#111" stroke-width="1.3"/>
<circle cx="460" cy="465" r="17.5" fill="#7c7c7c" stroke="#111" stroke-width="1.8" />
<circle cx="460" cy="465" r="14.0" fill="#8e8e8e" stroke="#6a6a6a" stroke-width="1.2" />
<polygon points="470.5,465.0 465.2,474.1 454.8,474.1 449.5,465.0 454.8,455.9 465.2,455.9" fill="#585858" stroke="#111" stroke-width="1.3"/>
<line x1="400" y1="431.3" x2="458.8" y2="431.3" stroke="#111" stroke-width="1.2" />
<line x1="400" y1="466.3" x2="458.8" y2="466.3" stroke="#111" stroke-width="1.2" />
<circle cx="400" cy="448.8" r="21.9" fill="url(#ringIn)" stroke="none" stroke-width="1" />
<path d="M386.8,431.3 A21.9,21.9 0 0 1 413.2,431.3 Z" fill="#7a7a7a" stroke="none" stroke-width="1" />
<path d="M386.8,466.3 A21.9,21.9 0 0 0 413.2,466.3 Z" fill="#7a7a7a" stroke="none" stroke-width="1" />
<circle cx="400" cy="448.8" r="24.1" fill="none" stroke="#1e1e1e" stroke-width="4.4" />
<line x1="386.8333755274938" y1="431.3" x2="416.306" y2="431.3" stroke="#111" stroke-width="1.6" />
<line x1="386.8333755274938" y1="466.3" x2="416.306" y2="466.3" stroke="#111" stroke-width="1.6" />
<path d="M400.0,436.9 A11.899999999999999,11.899999999999999 0 1 1 388.1,449.8" fill="none" stroke="#fff" stroke-width="2" />
<path d="M400.0,435.3 A13.5,13.5 0 1 1 386.7,446.5" fill="none" stroke="#222" stroke-width="1.1" />
<circle cx="400" cy="448.8" r="9.7" fill="#646464" stroke="#111" stroke-width="1.8" />
<line x1="335.7" y1="399.3" x2="365.7" y2="399.3" stroke="#222" stroke-width="0.9" />
<line x1="350.7" y1="384.3" x2="350.7" y2="414.3" stroke="#222" stroke-width="0.9" />
<line x1="434.5" y1="398.8" x2="464.5" y2="398.8" stroke="#222" stroke-width="0.9" />
<line x1="449.5" y1="383.8" x2="449.5" y2="413.8" stroke="#222" stroke-width="0.9" />
<line x1="336.3" y1="498.8" x2="366.3" y2="498.8" stroke="#222" stroke-width="0.9" />
<line x1="351.3" y1="483.8" x2="351.3" y2="513.8" stroke="#222" stroke-width="0.9" />
<line x1="433.8" y1="498" x2="463.8" y2="498" stroke="#222" stroke-width="0.9" />
<line x1="448.8" y1="483" x2="448.8" y2="513" stroke="#222" stroke-width="0.9" />
<line x1="324.7" y1="429.7" x2="354.7" y2="429.7" stroke="#222" stroke-width="0.9" />
<line x1="339.7" y1="414.7" x2="339.7" y2="444.7" stroke="#222" stroke-width="0.9" />
<line x1="445" y1="465" x2="475" y2="465" stroke="#222" stroke-width="0.9" />
<line x1="460" y1="450" x2="460" y2="480" stroke="#222" stroke-width="0.9" />
<line x1="400" y1="392" x2="400" y2="506" stroke="#222" stroke-width="0.9" stroke-dasharray="10,3,1.5,3" />
<line x1="295" y1="460.1" x2="352" y2="460.1" stroke="#222" stroke-width="0.9" stroke-dasharray="10,3,1.5,3" />
<line x1="352" y1="448.8" x2="458.7" y2="448.8" stroke="#222" stroke-width="0.9" stroke-dasharray="10,3,1.5,3" />
<line x1="317" y1="325" x2="317" y2="378" stroke="#333" stroke-width="1" />
<line x1="483" y1="325" x2="483" y2="378" stroke="#333" stroke-width="1" />
<line x1="317" y1="328.8" x2="388" y2="328.8" stroke="#111" stroke-width="1" />
<line x1="411" y1="328.8" x2="483" y2="328.8" stroke="#111" stroke-width="1" />
<polygon points="317.0,328.8 329.0,325.6 329.0,332.0" fill="#111"/>
<polygon points="483.0,328.8 471.0,325.6 471.0,332.0" fill="#111"/>
<text x="399.75" y="333.75" font-size="16" text-anchor="middle" fill="#111">A</text>
<line x1="350.7" y1="342" x2="350.7" y2="390" stroke="#333" stroke-width="1" />
<line x1="449.5" y1="342" x2="449.5" y2="385" stroke="#333" stroke-width="1" />
<line x1="350.7" y1="346.3" x2="391" y2="346.3" stroke="#111" stroke-width="1" />
<line x1="409" y1="346.3" x2="449.5" y2="346.3" stroke="#111" stroke-width="1" />
<polygon points="350.7,346.3 362.7,343.1 362.7,349.5" fill="#111"/>
<polygon points="449.5,346.3 437.5,343.1 437.5,349.5" fill="#111"/>
<text x="400" y="351.5" font-size="16" text-anchor="middle" fill="#111">I</text>
<line x1="483" y1="431.3" x2="508" y2="431.3" stroke="#333" stroke-width="1" />
<line x1="483" y1="466.3" x2="508" y2="466.3" stroke="#333" stroke-width="1" />
<line x1="503.8" y1="414" x2="503.8" y2="484" stroke="#111" stroke-width="1" />
<polygon points="503.8,431.3 500.6,419.3 507.0,419.3" fill="#111"/>
<polygon points="503.8,466.3 500.6,478.3 507.0,478.3" fill="#111"/>
<text transform="translate(500 449.4) rotate(-90)" x="0" y="0" font-size="16" text-anchor="middle" fill="#111">K</text>
<line x1="450" y1="488.8" x2="520" y2="488.8" stroke="#333" stroke-width="1" />
<line x1="450" y1="507" x2="520" y2="507" stroke="#333" stroke-width="1" />
<line x1="516.3" y1="472.5" x2="516.3" y2="542.5" stroke="#111" stroke-width="1" />
<polygon points="516.3,488.8 513.1,476.8 519.5,476.8" fill="#111"/>
<polygon points="516.3,507.0 513.1,519.0 519.5,519.0" fill="#111"/>
<text transform="translate(513.75 532.5) rotate(-90)" x="0" y="0" font-size="16" text-anchor="middle" fill="#111">D3</text>
<line x1="436.3" y1="505" x2="436.3" y2="567" stroke="#333" stroke-width="1" />
<line x1="461.3" y1="505" x2="461.3" y2="567" stroke="#333" stroke-width="1" />
<line x1="417.5" y1="562.5" x2="478.8" y2="562.5" stroke="#111" stroke-width="1" />
<polygon points="436.3,562.5 424.3,559.3 424.3,565.7" fill="#111"/>
<polygon points="461.3,562.5 473.3,559.3 473.3,565.7" fill="#111"/>
<text x="449.1" y="560" font-size="16" text-anchor="middle" fill="#111">D4</text>
<line x1="333.8" y1="505" x2="333.8" y2="582" stroke="#333" stroke-width="1" />
<line x1="367.5" y1="505" x2="367.5" y2="582" stroke="#333" stroke-width="1" />
<line x1="338.8" y1="505" x2="338.8" y2="566" stroke="#333" stroke-width="1" />
<line x1="362.5" y1="505" x2="362.5" y2="566" stroke="#333" stroke-width="1" />
<line x1="318.8" y1="562.5" x2="380" y2="562.5" stroke="#111" stroke-width="1" />
<polygon points="338.8,562.5 326.8,559.3 326.8,565.7" fill="#111"/>
<polygon points="362.5,562.5 374.5,559.3 374.5,565.7" fill="#111"/>
<text x="350" y="560" font-size="16" text-anchor="middle" fill="#111">D4</text>
<line x1="261" y1="578" x2="382.5" y2="578" stroke="#111" stroke-width="1" />
<polygon points="333.8,578.0 321.8,574.8 321.8,581.2" fill="#111"/>
<polygon points="367.5,578.0 379.5,574.8 379.5,581.2" fill="#111"/>
<text x="285.6" y="575" font-size="16" text-anchor="middle" fill="#111" word-spacing="2.6">D5 x L</text>
<line x1="272.6" y1="448.9" x2="291.6" y2="448.9" stroke="#333" stroke-width="1" />
<line x1="303.3" y1="448.9" x2="316.3" y2="448.9" stroke="#2a2a2a" stroke-width="1.1" />
<line x1="318.8" y1="448.9" x2="334.3" y2="448.9" stroke="#2a2a2a" stroke-width="1.3" stroke-dasharray="6,2.5" />
<path d="M332.8,448.9 Q337.3,448.9 337.3,451.09999999999997 Q337.3,453.29999999999995 332.8,453.29999999999995 L326.3,453.29999999999995" fill="none" stroke="#2a2a2a" stroke-width="1.3" />
<line x1="339.3" y1="453.29999999999995" x2="345.3" y2="453.29999999999995" stroke="#2a2a2a" stroke-width="1.3" />
<line x1="294.8" y1="460.0" x2="315.3" y2="460.0" stroke="#333" stroke-width="1" />
<line x1="294.8" y1="468.0" x2="317.3" y2="468.0" stroke="#2a2a2a" stroke-width="1.1" />
<line x1="318.8" y1="468.0" x2="343.3" y2="468.0" stroke="#2a2a2a" stroke-width="1.3" stroke-dasharray="6,2.5" />
<line x1="335.8" y1="461.6" x2="335.8" y2="470.6" stroke="#2a2a2a" stroke-width="1.3" />
<line x1="272.6" y1="471.2" x2="291.6" y2="471.2" stroke="#333" stroke-width="1" />
<line x1="300.3" y1="471.2" x2="316.3" y2="471.2" stroke="#2a2a2a" stroke-width="1.1" stroke-dasharray="9,3" />
<line x1="318.8" y1="471.2" x2="335.8" y2="471.2" stroke="#2a2a2a" stroke-width="1.3" stroke-dasharray="6,2.5" />
<line x1="273.6" y1="426.9" x2="273.6" y2="489.2" stroke="#111" stroke-width="1" />
<polygon points="273.6,448.9 270.4,436.9 276.8,436.9" fill="#111"/>
<polygon points="273.6,471.2 270.4,483.2 276.8,483.2" fill="#111"/>
<line x1="296.8" y1="439.9" x2="296.8" y2="501.2" stroke="#111" stroke-width="1" />
<polygon points="296.8,459.0 293.6,447.0 300.0,447.0" fill="#111"/>
<polygon points="296.8,471.2 293.6,481.2 300.0,481.2" fill="#111"/>
<text transform="translate(271.25 460.6) rotate(-90)" x="0" y="0" font-size="16" text-anchor="middle" fill="#111">G</text>
<text transform="translate(296.25 492.5) rotate(-90)" x="0" y="0" font-size="16" text-anchor="middle" fill="#111">F4</text>
<path d="M671.4,365.6 L694.9,365.6 L698.9,369.6 L726.9,369.6 L726.9,368.0 L739.1,368.0 L739.1,373.5 L736.5,373.5 L736.5,387.4 L762.2,387.4 L762.2,373.5 L759.7,373.5 L759.7,368.0 L775.1,368.0 L775.1,373.5 L772.6,373.5 L772.6,387.4 L798.3,387.4 L798.3,373.5 L795.7,373.5 L795.7,368.0 L807.9,368.0 L807.9,369.6 L835.9,369.6 L839.9,365.6 L863.4,365.6 Q889.4,365.6 889.4,391.6 L889.4,391.6 L889.4,415.1 L885.4,419.1 L885.4,447.1 L887.0,447.1 L887.0,459.3 L881.5,459.3 L881.5,456.7 L867.6,456.7 L867.6,482.4 L881.5,482.4 L881.5,479.9 L887.0,479.9 L887.0,495.3 L881.5,495.3 L881.5,492.8 L867.6,492.8 L867.6,518.5 L881.5,518.5 L881.5,515.9 L887.0,515.9 L887.0,528.1 L885.4,528.1 L885.4,556.1 L889.4,560.1 L889.4,583.6 Q889.4,609.6 863.4,609.6 L863.4,609.6 L839.9,609.6 L835.9,605.6 L807.9,605.6 L807.9,607.2 L795.7,607.2 L795.7,601.7 L798.3,601.7 L798.3,587.8 L772.6,587.8 L772.6,601.7 L775.1,601.7 L775.1,607.2 L759.7,607.2 L759.7,601.7 L762.2,601.7 L762.2,587.8 L736.5,587.8 L736.5,601.7 L739.1,601.7 L739.1,607.2 L726.9,607.2 L726.9,605.6 L698.9,605.6 L694.9,609.6 L671.4,609.6 Q645.4,609.6 645.4,583.6 L645.4,583.6 L645.4,560.1 L649.4,556.1 L649.4,419.1 L645.4,415.1 L645.4,391.6 Q645.4,365.6 671.4,365.6 Z" fill="url(#frontG)" stroke="#111" stroke-width="2" />
<path d="M654.2,394.6 L654.3,392.9 L654.5,391.3 L654.9,389.7 L655.4,388.1 L656.0,386.6 L656.8,385.1 L657.6,383.7 L658.6,382.4 L659.8,381.2 L661.0,380.1 L662.3,379.0 L663.7,378.1 L665.2,377.4 L666.7,376.8 L668.3,376.2 L669.9,375.9 L671.5,375.7 L673.2,375.6 L674.9,375.7 L676.5,375.9 L678.1,376.2 L679.7,376.8 L681.2,377.4 L682.7,378.1 L684.1,379.0 L685.4,380.1 L686.6,381.2 L687.8,382.4 L688.8,383.7 L697.4,396.3 L698.2,397.5 L698.8,398.7 L699.4,400.0 L699.8,401.4 L700.1,402.8 L700.3,404.1 L700.4,405.6 L700.3,407.0 L700.1,408.4 L699.8,409.8 L699.4,411.1 L698.8,412.4 L698.2,413.7 L697.4,414.9 L696.6,416.0 L695.6,417.0 L694.6,418.0 L693.5,418.8 L692.3,419.6 L691.0,420.2 L689.7,420.8 L688.4,421.2 L687.0,421.5 L685.6,421.7 L684.2,421.8 L682.8,421.7 L681.4,421.5 L680.0,421.2 L678.6,420.8 L677.3,420.2 L676.1,419.6 L674.9,418.8 L662.3,410.2 L661.0,409.1 L659.8,408.0 L658.6,406.8 L657.6,405.5 L656.8,404.1 L656.0,402.6 L655.4,401.1 L654.9,399.5 L654.5,397.9 L654.3,396.3 Z" fill="#5c5c5c" stroke="#111" stroke-width="1.8" />
<circle cx="673.2" cy="394.6" r="12.3" fill="#fff" stroke="#2a2a2a" stroke-width="2.6" />
<line x1="653.2" y1="394.6" x2="693.2" y2="394.6" stroke="#222" stroke-width="0.9" />
<line x1="673.2" y1="372.6" x2="673.2" y2="416.6" stroke="#222" stroke-width="0.9" />
<path d="M834.4,405.6 L834.5,404.1 L834.7,402.8 L835.0,401.4 L835.4,400.0 L836.0,398.7 L836.6,397.5 L837.4,396.3 L846.0,383.7 L847.0,382.4 L848.2,381.2 L849.4,380.1 L850.7,379.0 L852.1,378.1 L853.6,377.4 L855.1,376.8 L856.7,376.2 L858.3,375.9 L859.9,375.7 L861.6,375.6 L863.3,375.7 L864.9,375.9 L866.5,376.2 L868.1,376.8 L869.6,377.4 L871.1,378.1 L872.5,379.0 L873.8,380.1 L875.0,381.2 L876.1,382.4 L877.2,383.7 L878.0,385.1 L878.8,386.6 L879.5,388.1 L880.0,389.7 L880.3,391.3 L880.5,392.9 L880.6,394.6 L880.5,396.3 L880.3,397.9 L880.0,399.5 L879.5,401.1 L878.8,402.6 L878.0,404.1 L877.2,405.5 L876.1,406.8 L875.0,408.0 L873.8,409.1 L872.5,410.2 L859.9,418.8 L858.7,419.6 L857.5,420.2 L856.2,420.8 L854.8,421.2 L853.5,421.5 L852.0,421.7 L850.6,421.8 L849.2,421.7 L847.8,421.5 L846.5,421.2 L845.1,420.8 L843.8,420.2 L842.5,419.6 L841.4,418.8 L840.2,418.0 L839.2,417.0 L838.2,416.0 L837.4,414.9 L836.6,413.7 L836.0,412.4 L835.4,411.1 L835.0,409.8 L834.7,408.4 L834.5,407.0 Z" fill="#5c5c5c" stroke="#111" stroke-width="1.8" />
<circle cx="861.6" cy="394.6" r="12.3" fill="#fff" stroke="#2a2a2a" stroke-width="2.6" />
<line x1="841.6" y1="394.6" x2="881.6" y2="394.6" stroke="#222" stroke-width="0.9" />
<line x1="861.6" y1="372.6" x2="861.6" y2="416.6" stroke="#222" stroke-width="0.9" />
<path d="M654.2,580.6 L654.3,578.9 L654.5,577.3 L654.9,575.7 L655.4,574.1 L656.0,572.6 L656.8,571.1 L657.6,569.7 L658.6,568.4 L659.8,567.2 L661.0,566.0 L662.3,565.0 L674.9,556.4 L676.1,555.6 L677.3,555.0 L678.6,554.4 L680.0,554.0 L681.4,553.7 L682.8,553.5 L684.2,553.4 L685.6,553.5 L687.0,553.7 L688.4,554.0 L689.7,554.4 L691.0,555.0 L692.3,555.6 L693.5,556.4 L694.6,557.2 L695.6,558.2 L696.6,559.2 L697.4,560.4 L698.2,561.5 L698.8,562.8 L699.4,564.1 L699.8,565.5 L700.1,566.8 L700.3,568.2 L700.4,569.6 L700.3,571.0 L700.1,572.5 L699.8,573.8 L699.4,575.2 L698.8,576.5 L698.2,577.7 L697.4,578.9 L688.8,591.5 L687.8,592.8 L686.6,594.0 L685.4,595.1 L684.1,596.2 L682.7,597.0 L681.2,597.8 L679.7,598.5 L678.1,599.0 L676.5,599.3 L674.9,599.5 L673.2,599.6 L671.5,599.5 L669.9,599.3 L668.3,599.0 L666.7,598.5 L665.2,597.8 L663.7,597.0 L662.3,596.2 L661.0,595.1 L659.8,594.0 L658.6,592.8 L657.6,591.5 L656.8,590.1 L656.0,588.6 L655.4,587.1 L654.9,585.5 L654.5,583.9 L654.3,582.3 Z" fill="#5c5c5c" stroke="#111" stroke-width="1.8" />
<circle cx="673.2" cy="580.6" r="12.3" fill="#fff" stroke="#2a2a2a" stroke-width="2.6" />
<line x1="653.2" y1="580.6" x2="693.2" y2="580.6" stroke="#222" stroke-width="0.9" />
<line x1="673.2" y1="558.6" x2="673.2" y2="602.6" stroke="#222" stroke-width="0.9" />
<path d="M834.4,569.6 L834.5,568.2 L834.7,566.8 L835.0,565.5 L835.4,564.1 L836.0,562.8 L836.6,561.5 L837.4,560.4 L838.2,559.2 L839.2,558.2 L840.2,557.2 L841.4,556.4 L842.5,555.6 L843.8,555.0 L845.1,554.4 L846.5,554.0 L847.8,553.7 L849.2,553.5 L850.6,553.4 L852.0,553.5 L853.5,553.7 L854.8,554.0 L856.2,554.4 L857.5,555.0 L858.7,555.6 L859.9,556.4 L872.5,565.0 L873.8,566.0 L875.0,567.2 L876.1,568.4 L877.2,569.7 L878.0,571.1 L878.8,572.6 L879.5,574.1 L880.0,575.7 L880.3,577.3 L880.5,578.9 L880.6,580.6 L880.5,582.3 L880.3,583.9 L880.0,585.5 L879.5,587.1 L878.8,588.6 L878.0,590.1 L877.2,591.5 L876.1,592.8 L875.0,594.0 L873.8,595.1 L872.5,596.2 L871.1,597.0 L869.6,597.8 L868.1,598.5 L866.5,599.0 L864.9,599.3 L863.3,599.5 L861.6,599.6 L859.9,599.5 L858.3,599.3 L856.7,599.0 L855.1,598.5 L853.6,597.8 L852.1,597.0 L850.7,596.2 L849.4,595.1 L848.2,594.0 L847.0,592.8 L846.0,591.5 L837.4,578.9 L836.6,577.7 L836.0,576.5 L835.4,575.2 L835.0,573.8 L834.7,572.5 L834.5,571.0 Z" fill="#5c5c5c" stroke="#111" stroke-width="1.8" />
<circle cx="861.6" cy="580.6" r="12.3" fill="#fff" stroke="#2a2a2a" stroke-width="2.6" />
<line x1="841.6" y1="580.6" x2="881.6" y2="580.6" stroke="#222" stroke-width="0.9" />
<line x1="861.6" y1="558.6" x2="861.6" y2="602.6" stroke="#222" stroke-width="0.9" />
<circle cx="717.1" cy="388.2" r="14.8" fill="#7c7c7c" stroke="#111" stroke-width="1.8" />
<circle cx="717.1" cy="388.2" r="11.5" fill="#8e8e8e" stroke="#6a6a6a" stroke-width="1.2" />
<polygon points="724.0,392.2 717.1,396.2 710.2,392.2 710.2,384.2 717.1,380.2 724.0,384.2" fill="#585858" stroke="#111" stroke-width="1.3"/>
<line x1="704.1" y1="388.2" x2="730.1" y2="388.2" stroke="#222" stroke-width="0.9" />
<line x1="717.1" y1="375.2" x2="717.1" y2="401.2" stroke="#222" stroke-width="0.9" />
<circle cx="817.7" cy="388.2" r="14.8" fill="#7c7c7c" stroke="#111" stroke-width="1.8" />
<circle cx="817.7" cy="388.2" r="11.5" fill="#8e8e8e" stroke="#6a6a6a" stroke-width="1.2" />
<polygon points="824.6,392.2 817.7,396.2 810.8,392.2 810.8,384.2 817.7,380.2 824.6,384.2" fill="#585858" stroke="#111" stroke-width="1.3"/>
<line x1="804.7" y1="388.2" x2="830.7" y2="388.2" stroke="#222" stroke-width="0.9" />
<line x1="817.7" y1="375.2" x2="817.7" y2="401.2" stroke="#222" stroke-width="0.9" />
<circle cx="717.1" cy="586.8" r="14.8" fill="#7c7c7c" stroke="#111" stroke-width="1.8" />
<circle cx="717.1" cy="586.8" r="11.5" fill="#8e8e8e" stroke="#6a6a6a" stroke-width="1.2" />
<polygon points="724.0,590.8 717.1,594.8 710.2,590.8 710.2,582.8 717.1,578.8 724.0,582.8" fill="#585858" stroke="#111" stroke-width="1.3"/>
<line x1="704.1" y1="586.8" x2="730.1" y2="586.8" stroke="#222" stroke-width="0.9" />
<line x1="717.1" y1="573.8" x2="717.1" y2="599.8" stroke="#222" stroke-width="0.9" />
<circle cx="817.7" cy="586.8" r="14.8" fill="#7c7c7c" stroke="#111" stroke-width="1.8" />
<circle cx="817.7" cy="586.8" r="11.5" fill="#8e8e8e" stroke="#6a6a6a" stroke-width="1.2" />
<polygon points="824.6,590.8 817.7,594.8 810.8,590.8 810.8,582.8 817.7,578.8 824.6,582.8" fill="#585858" stroke="#111" stroke-width="1.3"/>
<line x1="804.7" y1="586.8" x2="830.7" y2="586.8" stroke="#222" stroke-width="0.9" />
<line x1="817.7" y1="573.8" x2="817.7" y2="599.8" stroke="#222" stroke-width="0.9" />
<line x1="767.4" y1="465" x2="836" y2="465" stroke="#111" stroke-width="1.2" />
<line x1="767.4" y1="510" x2="836" y2="510" stroke="#111" stroke-width="1.2" />
<circle cx="767.4" cy="487.6" r="29" fill="url(#ringIn)" stroke="none" stroke-width="1" />
<path d="M749.1,465.1 A29,29 0 0 1 785.7,465.1 Z" fill="#7a7a7a" stroke="none" stroke-width="1" />
<path d="M749.1,510.1 A29,29 0 0 0 785.7,510.1 Z" fill="#7a7a7a" stroke="none" stroke-width="1" />
<circle cx="767.4" cy="487.6" r="33.0" fill="none" stroke="#4e4e4e" stroke-width="8" />
<circle cx="767.4" cy="487.6" r="37" fill="none" stroke="#111" stroke-width="1.4" />
<circle cx="767.4" cy="487.6" r="29" fill="none" stroke="#111" stroke-width="1.2" />
<line x1="749.103825536468" y1="465.1" x2="790.34" y2="465.1" stroke="#111" stroke-width="1.6" />
<line x1="749.103825536468" y1="510.1" x2="790.34" y2="510.1" stroke="#111" stroke-width="1.6" />
<path d="M767.4,472.1 A15.5,15.5 0 1 1 752.0,489.0" fill="none" stroke="#fff" stroke-width="2" />
<path d="M767.4,470.5 A17.1,17.1 0 1 1 750.6,484.6" fill="none" stroke="#222" stroke-width="1.1" />
<circle cx="767.4" cy="487.6" r="13.3" fill="#646464" stroke="#111" stroke-width="1.8" />
<line x1="767.4" y1="358" x2="767.4" y2="627" stroke="#222" stroke-width="0.9" stroke-dasharray="10,3,1.5,3" />
<line x1="626" y1="487.4" x2="910" y2="487.4" stroke="#222" stroke-width="0.9" stroke-dasharray="10,3,1.5,3" />
<rect x="649" y="464" width="42" height="34" fill="url(#psh)" stroke="none" stroke-width="1" />
<line x1="603" y1="468.8" x2="622.3" y2="468.8" stroke="#333" stroke-width="1" />
<line x1="632.6" y1="468.8" x2="671" y2="468.8" stroke="#2a2a2a" stroke-width="1.3" stroke-dasharray="7,3" />
<line x1="603" y1="494.2" x2="623.6" y2="494.2" stroke="#333" stroke-width="1" />
<line x1="632" y1="494.2" x2="671" y2="494.2" stroke="#2a2a2a" stroke-width="1.3" stroke-dasharray="7,3" />
<line x1="650" y1="473" x2="683" y2="473" stroke="#2a2a2a" stroke-width="1.3" stroke-dasharray="7,3" />
<line x1="650" y1="490" x2="683" y2="490" stroke="#2a2a2a" stroke-width="1.3" stroke-dasharray="7,3" />
<line x1="626" y1="481.6" x2="645.4" y2="481.6" stroke="#333" stroke-width="1" />
<line x1="650" y1="481.6" x2="683" y2="481.6" stroke="#2a2a2a" stroke-width="1.2" />
<line x1="626" y1="487.4" x2="645.4" y2="487.4" stroke="#333" stroke-width="1" />
<line x1="650" y1="487.4" x2="683" y2="487.4" stroke="#2a2a2a" stroke-width="1.2" />
<line x1="671.8" y1="473" x2="671.8" y2="494.5" stroke="#2a2a2a" stroke-width="1.3" stroke-dasharray="5,2" />
<line x1="645" y1="342" x2="645" y2="380" stroke="#333" stroke-width="1" />
<line x1="889.4" y1="342" x2="889.4" y2="380" stroke="#333" stroke-width="1" />
<line x1="645" y1="347.1" x2="757" y2="347.1" stroke="#111" stroke-width="1" />
<line x1="778" y1="347.1" x2="889.4" y2="347.1" stroke="#111" stroke-width="1" />
<polygon points="645.0,347.1 657.0,343.9 657.0,350.3" fill="#111"/>
<polygon points="889.4,347.1 877.4,343.9 877.4,350.3" fill="#111"/>
<text x="767.9" y="352" font-size="16" text-anchor="middle" fill="#111">A</text>
<line x1="873" y1="365.3" x2="960" y2="365.3" stroke="#333" stroke-width="1" />
<line x1="873" y1="610" x2="960" y2="610" stroke="#333" stroke-width="1" />
<line x1="956.6" y1="365.3" x2="956.6" y2="475" stroke="#111" stroke-width="1" />
<line x1="956.6" y1="500" x2="956.6" y2="610" stroke="#111" stroke-width="1" />
<polygon points="956.6,365.3 953.4,377.3 959.8,377.3" fill="#111"/>
<polygon points="956.6,610.0 953.4,598.0 959.8,598.0" fill="#111"/>
<text transform="translate(963.7 487.9) rotate(-90)" x="0" y="0" font-size="16" text-anchor="middle" fill="#111">A</text>
<line x1="873" y1="394.9" x2="928" y2="394.9" stroke="#333" stroke-width="1" />
<line x1="873" y1="580.6" x2="928" y2="580.6" stroke="#333" stroke-width="1" />
<line x1="924.6" y1="394.9" x2="924.6" y2="478" stroke="#111" stroke-width="1" />
<line x1="924.6" y1="497" x2="924.6" y2="580.6" stroke="#111" stroke-width="1" />
<polygon points="924.6,394.9 921.4,406.9 927.8,406.9" fill="#111"/>
<polygon points="924.6,580.6 921.4,568.6 927.8,568.6" fill="#111"/>
<text transform="translate(929.4 487) rotate(-90)" x="0" y="0" font-size="16" text-anchor="middle" fill="#111">I</text>
<line x1="673.2" y1="600" x2="673.2" y2="642" stroke="#333" stroke-width="1" stroke-dasharray="9,2.5" />
<line x1="861.6" y1="600" x2="861.6" y2="642" stroke="#333" stroke-width="1" stroke-dasharray="9,2.5" />
<line x1="673.2" y1="635.7" x2="757" y2="635.7" stroke="#111" stroke-width="1" />
<line x1="778" y1="635.7" x2="861.6" y2="635.7" stroke="#111" stroke-width="1" />
<polygon points="673.2,635.7 685.2,632.5 685.2,638.9" fill="#111"/>
<polygon points="861.6,635.7 849.6,632.5 849.6,638.9" fill="#111"/>
<text x="767" y="640.1" font-size="16" text-anchor="middle" fill="#111">I</text>
<line x1="832" y1="465" x2="832" y2="510" stroke="#111" stroke-width="1" />
<polygon points="832.0,465.0 828.8,477.0 835.2,477.0" fill="#111"/>
<polygon points="832.0,510.0 828.8,498.0 835.2,498.0" fill="#111"/>
<text transform="translate(828 486.5) rotate(-90)" x="0" y="0" font-size="16" text-anchor="middle" fill="#111">K</text>
<line x1="604" y1="450" x2="604" y2="512" stroke="#111" stroke-width="1" />
<polygon points="604.0,468.8 600.8,456.8 607.2,456.8" fill="#111"/>
<polygon points="604.0,494.2 600.8,506.2 607.2,506.2" fill="#111"/>
<text transform="translate(601.4 480) rotate(-90)" x="0" y="0" font-size="16" text-anchor="middle" fill="#111">G</text>
<line x1="626.8" y1="463" x2="626.8" y2="523" stroke="#111" stroke-width="1" />
<polygon points="626.8,481.6 623.6,469.6 630.0,469.6" fill="#111"/>
<polygon points="626.8,487.4 623.6,496.4 630.0,496.4" fill="#111"/>
<text transform="translate(625.7 512) rotate(-90)" x="0" y="0" font-size="16" text-anchor="middle" fill="#111">F4</text>
<text x="76" y="626.2" font-size="22.2" text-anchor="start" font-weight="bold" fill="#111">Ø 16 mm</text>
<text x="334" y="626.4" font-size="22.2" text-anchor="start" font-weight="bold" fill="#111">Ø 20; 25 mm</text>
<text x="638.5" y="685.7" font-size="22.2" text-anchor="start" font-weight="bold" fill="#111">Ø 32; 40; 50; 63; 80; 100 mm</text></svg>
</body></html>
